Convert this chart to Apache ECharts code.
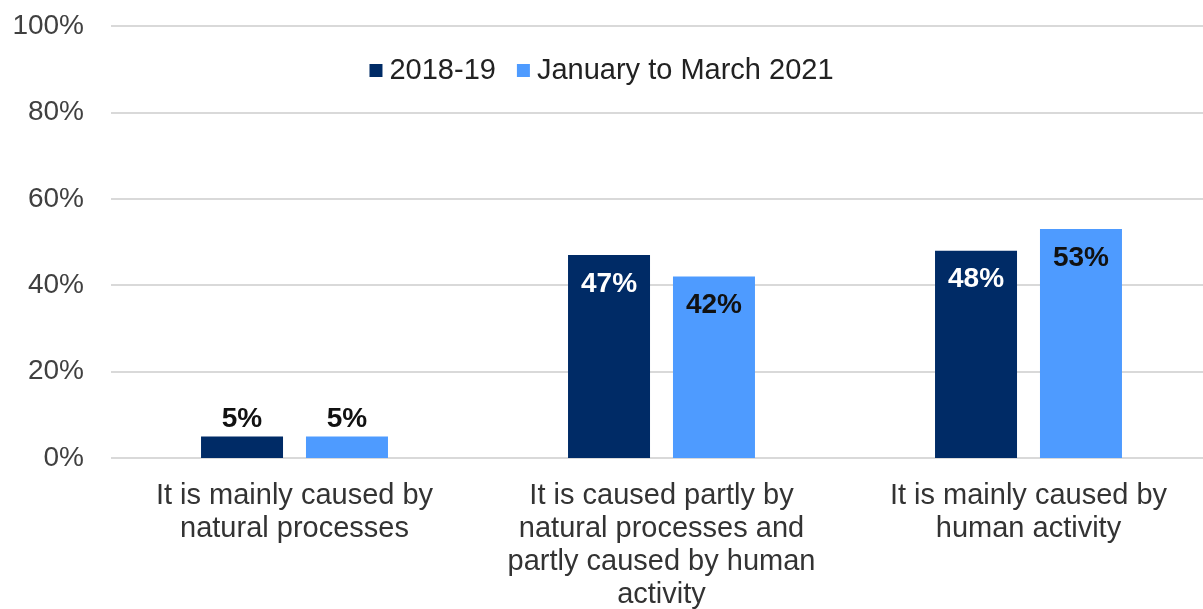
<!DOCTYPE html>
<html>
<head>
<meta charset="utf-8">
<script src="https://cdn.jsdelivr.net/npm/echarts@6/dist/echarts.min.js"></script>
<style>
html, body { margin: 0; padding: 0; background: #fff; }
#container { width: 1203px; height: 609px; }
</style>
</head>
<body>
<div id="container"></div>
<script>
// categories (line breaks as in the original axis labels)
var categories = [
    'It is mainly caused by\nnatural processes',
    'It is caused partly by\nnatural processes and\npartly caused by human\nactivity',
    'It is mainly caused by\nhuman activity'
];
var seriesNames = ['2018-19', 'January to March 2021'];
var values2018 = [5, 47, 48];
var values2021 = [5, 42, 53];
var yTicks = [0, 20, 40, 60, 80, 100];

var dom = document.getElementById('container');
var myChart = echarts.init(dom);

// small values get the label above the bar, others inside the top
function barData(vals, insideColor) {
    return vals.map(function (v) {
        if (v < 10) {
            return { value: v, label: { position: 'top', distance: 3, color: '#111' } };
        }
        return { value: v, label: { position: 'insideTop', distance: 15, color: insideColor } };
    });
}

var option = {
    animation: false,
    textStyle: { fontFamily: 'Liberation Sans, Arial, sans-serif' },
    legend: {
        data: seriesNames,
        top: 51,
        left: 'center',
        itemWidth: 13,
        itemHeight: 13,
        itemGap: 21,
        icon: 'rect',
        textStyle: { fontSize: 29, color: '#222', padding: [0, 0, 0, 2] }
    },
    grid: {
        left: 111,
        right: -9,
        top: 26,
        bottom: 151,
        containLabel: false,
        outerBoundsMode: 'none'
    },
    xAxis: {
        type: 'category',
        data: categories,
        axisLine: { show: false },
        axisTick: { show: false },
        axisLabel: {
            interval: 0,
            margin: 21,
            fontSize: 29,
            lineHeight: 33,
            color: '#333'
        }
    },
    yAxis: {
        type: 'value',
        min: yTicks[0],
        max: yTicks[yTicks.length - 1],
        interval: 20,
        axisLabel: {
            formatter: '{value}%',
            fontSize: 28,
            color: '#404040',
            margin: 27
        },
        splitLine: { lineStyle: { color: '#d9d9d9', width: 2 } },
        axisLine: { show: false },
        axisTick: { show: false }
    },
    series: [
        {
            name: seriesNames[0],
            type: 'bar',
            barWidth: 82,
            barGap: '28%',
            itemStyle: { color: '#002b66' },
            label: {
                show: true,
                formatter: '{c}%',
                fontSize: 28,
                fontWeight: 'bold'
            },
            data: barData(values2018, '#fff')
        },
        {
            name: seriesNames[1],
            type: 'bar',
            barWidth: 82,
            itemStyle: { color: '#4e9bff' },
            label: {
                show: true,
                formatter: '{c}%',
                fontSize: 28,
                fontWeight: 'bold'
            },
            data: barData(values2021, '#111')
        }
    ]
};

if (option && typeof option === 'object') {
    myChart.setOption(option, true);
}
</script>
</body>
</html>
